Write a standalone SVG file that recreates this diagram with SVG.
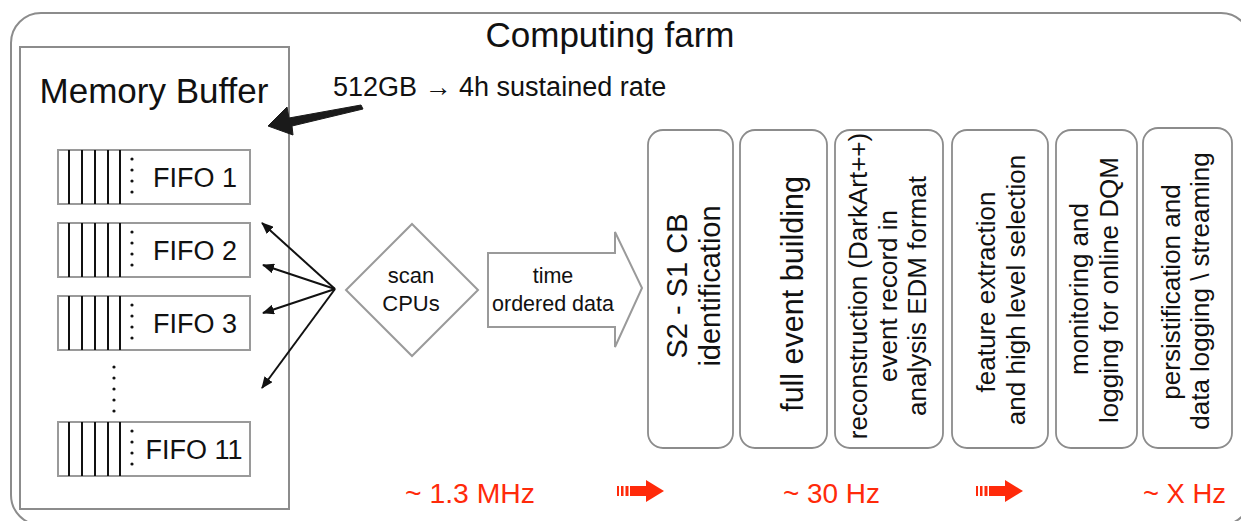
<svg xmlns="http://www.w3.org/2000/svg" width="1241" height="521" viewBox="0 0 1241 521">
<defs>
<style>
text{font-family:"Liberation Sans",Arial,Helvetica,sans-serif;fill:#111}
.frame{fill:none;stroke:#8c8c8c;stroke-width:2}
.fifo{fill:#fff;stroke:#9a9a9a;stroke-width:2}
.bar{stroke:#111;stroke-width:2}
.dot{fill:#111}
.stage{fill:#fff;stroke:#8c8c8c;stroke-width:1.8}
.shape{fill:#fff;stroke:#9a9a9a;stroke-width:2}
.conn{stroke:#111;stroke-width:2;fill:none;marker-end:url(#ah)}
.red{fill:#ff2a0a}
.lbl{font-size:27px}
.st{font-size:26px;text-anchor:middle}
</style>
<marker id="ah" viewBox="0 0 12 10" refX="11" refY="5" markerWidth="6" markerHeight="5" orient="auto" markerUnits="strokeWidth">
<path d="M0,0 L12,5 L0,10 z" fill="#111"/>
</marker>
<g id="fifobox">
<rect class="fifo" x="0" y="0" width="192" height="54"/>
<line class="bar" x1="11" y1="0" x2="11" y2="54"/>
<line class="bar" x1="24" y1="0" x2="24" y2="54"/>
<line class="bar" x1="37" y1="0" x2="37" y2="54"/>
<line class="bar" x1="50" y1="0" x2="50" y2="54"/>
<line class="bar" x1="62" y1="0" x2="62" y2="54"/>
<circle class="dot" cx="74" cy="9" r="1.6"/>
<circle class="dot" cx="74" cy="20" r="1.6"/>
<circle class="dot" cx="74" cy="31" r="1.6"/>
<circle class="dot" cx="74" cy="42" r="1.6"/>
</g>
<g id="redarrow">
<rect x="0" y="-5" width="2" height="10"/>
<rect x="4" y="-5" width="2.5" height="10"/>
<rect x="8.5" y="-5" width="3" height="10"/>
<rect x="13" y="-5" width="17" height="10"/>
<path d="M29,-11 L47,0 L29,11 z"/>
</g>
</defs>

<g id="computing-farm">
<rect class="frame" x="11" y="13" width="1240" height="512" rx="30" ry="30"/>
<text x="610" y="47" style="font-size:35px" text-anchor="middle">Computing farm</text>
</g>

<g id="memory-buffer">
<rect class="frame" x="20" y="47" width="269" height="462"/>
<text x="154" y="103" style="font-size:35px" text-anchor="middle">Memory Buffer</text>
</g>

<g id="capacity-note">
<text x="333" y="96" class="lbl">512GB → 4h sustained rate</text>
<path d="M268,126 L287,107 L289,118 L361,105 L363,109 L292,126 L293,135 Z" fill="#1a1a1a" stroke="#1a1a1a" stroke-width="1" stroke-linejoin="round"/>
</g>

<g id="fifo1">
<use href="#fifobox" x="58" y="150"/>
<text x="195" y="187" class="lbl" text-anchor="middle">FIFO 1</text>
</g>
<g id="fifo2">
<use href="#fifobox" x="58" y="223"/>
<text x="195" y="260" class="lbl" text-anchor="middle">FIFO 2</text>
</g>
<g id="fifo3">
<use href="#fifobox" x="58" y="296"/>
<text x="195" y="333" class="lbl" text-anchor="middle">FIFO 3</text>
</g>
<g id="fifo-ellipsis">
<circle class="dot" cx="114" cy="367" r="1.6"/>
<circle class="dot" cx="114" cy="378" r="1.6"/>
<circle class="dot" cx="114" cy="389" r="1.6"/>
<circle class="dot" cx="114" cy="400" r="1.6"/>
<circle class="dot" cx="114" cy="411" r="1.6"/>
</g>
<g id="fifo11">
<use href="#fifobox" x="58" y="422"/>
<text x="194" y="459" class="lbl" text-anchor="middle">FIFO 11</text>
</g>

<g id="scan-cpus">
<path class="shape" d="M412,224 L478,290 L412,356 L346,290 Z"/>
<text x="411" y="283" style="font-size:22px" text-anchor="middle">scan</text>
<text x="411" y="311" style="font-size:22px" text-anchor="middle">CPUs</text>
</g>

<g id="time-ordered-data">
<path class="shape" d="M488,253 L615,253 L615,232 L642,288 L615,347 L615,327 L488,327 Z"/>
<text x="553" y="283" style="font-size:21.5px" text-anchor="middle">time</text>
<text x="553" y="311" style="font-size:21.5px" text-anchor="middle">ordered data</text>
</g>

<g id="connectors">
<line class="conn" x1="335" y1="289" x2="262" y2="223"/>
<line class="conn" x1="335" y1="289" x2="263" y2="265"/>
<line class="conn" x1="335" y1="289" x2="263" y2="313"/>
<line class="conn" x1="335" y1="289" x2="262" y2="388"/>
</g>

<g id="stage-s2s1">
<rect class="stage" x="648" y="130" width="85" height="318" rx="15"/>
<g transform="translate(687,286) rotate(-90)">
<text style="font-size:29px" text-anchor="middle"><tspan x="0" y="0">S2 - S1 CB</tspan><tspan x="0" y="33">identification</tspan></text>
</g>
</g>

<g id="stage-event-building">
<rect class="stage" x="740" y="130" width="87" height="318" rx="15"/>
<g transform="translate(803,294) rotate(-90)">
<text style="font-size:30.5px" text-anchor="middle" x="0" y="0">full event building</text>
</g>
</g>

<g id="stage-reconstruction">
<rect class="stage" x="835" y="130" width="108" height="318" rx="15"/>
<g transform="translate(867,0) rotate(-90)">
<text class="st"><tspan x="-286" y="0">reconstruction (DarkArt++)</tspan><tspan x="-296" y="29.5">event record in</tspan><tspan x="-296" y="59">analysis EDM format</tspan></text>
</g>
</g>

<g id="stage-feature">
<rect class="stage" x="952" y="130" width="96" height="318" rx="15"/>
<g transform="translate(995,0) rotate(-90)">
<text class="st"><tspan x="-292" y="0">feature extraction</tspan><tspan x="-290" y="30">and high level selection</tspan></text>
</g>
</g>

<g id="stage-monitoring">
<rect class="stage" x="1056" y="130" width="81" height="318" rx="15"/>
<g transform="translate(1088,0) rotate(-90)">
<text class="st"><tspan x="-289" y="0">monitoring and</tspan><tspan x="-290" y="30">logging for online DQM</tspan></text>
</g>
</g>

<g id="stage-persistification">
<rect class="stage" x="1143" y="128" width="89" height="320" rx="15"/>
<g transform="translate(1180,0) rotate(-90)">
<text class="st"><tspan x="-292" y="0">persistification and</tspan><tspan x="-291" y="29">data logging \ streaming</tspan></text>
</g>
</g>

<g id="rates">
<text x="405" y="503" class="red" style="font-size:27px" textLength="130" lengthAdjust="spacingAndGlyphs">~ 1.3 MHz</text>
<use href="#redarrow" x="617" y="491" class="red"/>
<text x="783" y="503" class="red" style="font-size:27px" textLength="97" lengthAdjust="spacingAndGlyphs">~ 30 Hz</text>
<use href="#redarrow" x="976" y="491" class="red"/>
<text x="1143" y="503" class="red" style="font-size:27px" textLength="83" lengthAdjust="spacingAndGlyphs">~ X Hz</text>
</g>
</svg>
